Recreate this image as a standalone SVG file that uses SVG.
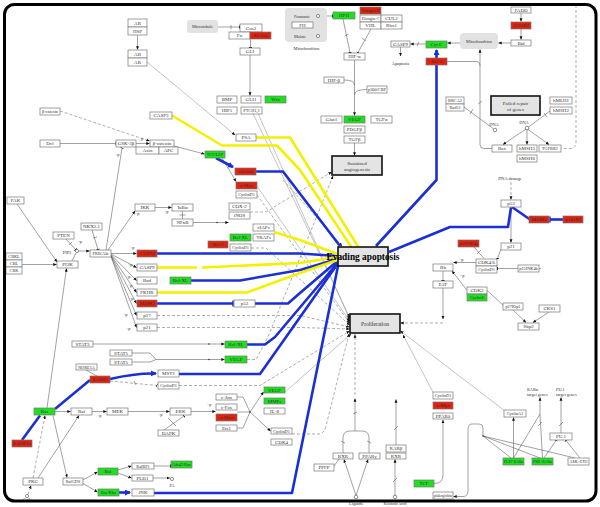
<svg xmlns="http://www.w3.org/2000/svg" width="600" height="507" viewBox="0 0 600 507">
<defs>
<style>
.b{fill:#fff;stroke:#777;stroke-width:.7}
.r{fill:#e0220f;stroke:#777;stroke-width:.7}
.g{fill:#1fe01f;stroke:#777;stroke-width:.7}
.ph{fill:#e4e4e4;stroke:#111;stroke-width:1.6}
.gr{fill:#e2e2e2;stroke:none}
text{font-family:"Liberation Serif","DejaVu Serif",serif;font-size:5px;fill:#333;text-anchor:middle}
.s{font-size:4.3px}
.st{text-anchor:start}
.l{stroke:#444;stroke-width:.5;fill:none}
.d{stroke:#777;stroke-width:.6;fill:none;stroke-dasharray:3 2}
.gl{stroke:#888;stroke-width:.5;fill:none}
.bl{stroke:#1b2fd6;stroke-width:2.6;fill:none;stroke-linejoin:round}
.ye{stroke:#f4f000;stroke-width:2.6;fill:none;stroke-linejoin:round}
.c{fill:#fff;stroke:#444;stroke-width:.6}
</style>
<marker id="ar" viewBox="0 0 6 6" refX="5.5" refY="3" markerWidth="3.5" markerHeight="3.5" markerUnits="userSpaceOnUse" orient="auto"><path d="M0,0.5L6,3L0,5.5z" fill="#111"/></marker>
<marker id="tb" viewBox="0 0 2 6" refX="1" refY="3" markerWidth="1" markerHeight="4" markerUnits="userSpaceOnUse" orient="auto"><path d="M1,0V6" stroke="#111" stroke-width="2"/></marker>
<marker id="abl" viewBox="0 0 6 6" refX="5" refY="3" markerWidth="6" markerHeight="6" markerUnits="userSpaceOnUse" orient="auto"><path d="M0,0L6,3L0,6z" fill="#1b2fd6"/></marker>
<marker id="tbl" viewBox="0 0 2 8" refX="1" refY="4" markerWidth="1.5" markerHeight="7" markerUnits="userSpaceOnUse" orient="auto"><path d="M1,0V8" stroke="#1b2fd6" stroke-width="2"/></marker>
</defs>
<rect width="600" height="507" fill="#fff"/>

<g id="connectors">
<!-- gray fan lines -->
<path class="gl" d="M253,113.5L349.5,317" marker-end="url(#ar)"/>
<path class="gl" d="M258,113.5L349.5,319" marker-end="url(#ar)"/>
<path class="gl" d="M257,186L349.5,321" marker-end="url(#ar)"/>
<path class="d" d="M257,195L349.5,323" marker-end="url(#ar)"/>
<path class="d" d="M251,248H266L349.5,325" marker-end="url(#ar)"/>
<path class="d" d="M157,315.5H300L349.5,327" marker-end="url(#ar)"/>
<path class="d" d="M157,327.5H300L349.5,329" marker-end="url(#ar)"/>
<path class="d" d="M179,385.5H260L349.5,331" marker-end="url(#ar)"/>
<path class="d" d="M292,434H318Q324,434 326,426L349,334" marker-end="url(#ar)"/>
<path class="gl" d="M285,392L351,334" marker-end="url(#ar)"/>
<path class="d" d="M250,212H262Q268,212 274,207L331.5,172" marker-end="url(#ar)"/>
<path class="d" d="M247,359.5H256L268,337L333,176" marker-end="url(#ar)"/>
<path class="d" d="M283,180L342,246" marker-end="url(#ar)"/>
<path class="gl" d="M505,411L400.5,331" marker-end="url(#ar)"/>
<path class="gl" d="M434,394L403,335" marker-end="url(#ar)"/>
<!-- top left -->
<path class="l" d="M137.5,35V49.5" marker-end="url(#ar)"/>
<path class="gl" d="M147,62L235,135" marker-end="url(#ar)"/>
<path class="d" d="M60,111L149.5,141" marker-end="url(#ar)"/>
<path class="l" d="M60,143.5H115" marker-end="url(#tb)"/>
<path class="l" d="M136,143.5H149.5" marker-end="url(#ar)"/>
<path class="l" d="M174,146L204.5,154" marker-end="url(#ar)"/>
<path class="l" d="M106,250L122,148" marker-end="url(#tb)"/>
<path class="l" d="M218,27H239.5" marker-end="url(#tb)"/>
<path class="l" d="M231,25V29"/>
<path class="l" d="M250.5,39.5V47.5" marker-end="url(#tb)"/>
<path class="l" d="M250,55V95.5" marker-end="url(#ar)"/>
<path class="l" d="M318,18V34" marker-end="url(#ar)"/>
<path class="l" d="M316.5,27L319.5,24"/>
<path class="l" d="M320,16H332.5" marker-end="url(#tb)"/>
<path class="l" d="M343,19L350,52.5" marker-end="url(#tb)"/>
<path class="l" d="M344.5,36L348.5,34"/>
<path class="l" d="M371,29L358,52.5" marker-end="url(#tb)"/>
<path class="l" d="M362,38L366,41"/>
<path class="l" d="M354.5,60V115.5" marker-end="url(#ar)"/>
<path class="l" d="M344,80Q354.5,80 354.5,85"/>
<path class="l" d="M367,89.5Q354.5,89.5 354.5,95"/>
<path class="l" d="M426,44H410.5" marker-end="url(#ar)"/>
<path class="l" d="M417,46L419,42"/>
<path class="l" d="M400.5,47V56" marker-end="url(#ar)"/>
<path class="l" d="M460,43H447.5" marker-end="url(#ar)"/>
<path class="l" d="M511,43H498.5" marker-end="url(#ar)"/>
<path class="l" d="M521,13V21.5" marker-end="url(#ar)"/>
<path class="l" d="M521,29V39.5" marker-end="url(#ar)"/>
<path class="l" d="M354.5,143V155.5" marker-end="url(#ar)"/>
<path class="l" d="M464,107L493.5,128.8"/>
<path class="l" d="M470,114L473,109"/>
<path class="l" d="M550,111L528.5,127"/>
<path class="l" d="M544,113L547,117"/>
<path class="l" d="M526,129L503,144.5" marker-end="url(#ar)"/>
<path class="l" d="M527,129.8V144.5" marker-end="url(#ar)"/>
<path class="l" d="M528,129.5L549,144.5" marker-end="url(#ar)"/>
<path class="l" d="M492,148.5H484Q480,148.5 480,144.5V49.5" marker-end="url(#ar)"/>
<path class="l" d="M447,61.5H476Q480,61.5 480,66"/>
<path class="l" d="M478,104L482,101"/>
<path class="d" d="M576,5V142Q576,148.5 570,148.5H561.5"/>
<!-- right middle -->
<path class="d" d="M511,182V199.5" marker-end="url(#ar)"/>
<path class="l" d="M511,207V242.5" marker-end="url(#ar)"/>
<path class="l" d="M474,247L484,258.5"/>
<path class="l" d="M481,250L477,254"/>
<path class="l" d="M501,249L497.5,258.5" marker-end="url(#tb)"/>
<path class="l" d="M518,268.5H497.5" marker-end="url(#tb)"/>
<path class="l" d="M539,268.5H541"/>
<path class="l" d="M476,262.5H453.5" marker-end="url(#ar)"/>
<path class="l" d="M470,294L452,271" marker-end="url(#ar)"/>
<path class="l" d="M443,271V280.5" marker-end="url(#tb)"/>
<path class="l" d="M443,288V319" marker-end="url(#ar)"/>
<path class="d" d="M443,323H400.5" marker-end="url(#ar)"/>
<path class="l" d="M487,290.5L503,305"/>
<path class="l" d="M513,310L526,322.5" marker-end="url(#ar)"/>
<path class="l" d="M549,312L533,322.5" marker-end="url(#ar)"/>
<!-- left middle -->
<path class="l" d="M17,204L57,262" marker-end="url(#ar)"/>
<path class="l" d="M22,264.5H56.5" marker-end="url(#ar)"/>
<path class="l" d="M47,408L66.5,268.5" marker-end="url(#ar)"/>
<path class="l" d="M72,261L76,253"/>
<path class="l" d="M66,239L75.5,249.5" marker-end="url(#tb)"/>
<path class="l" d="M69,245L72,242"/>
<path class="l" d="M78.6,251H89.5" marker-end="url(#ar)"/>
<path class="l" d="M92,230L98,249.5" marker-end="url(#tb)"/>
<path class="l" d="M93,238L97,237"/>
<path class="l" d="M108,250L135,211" marker-end="url(#ar)"/>
<path class="l" d="M155,207.5H171.5" marker-end="url(#ar)"/>
<path class="l" d="M182.5,211V219M179.5,215H185.5"/>
<path class="l" d="M193,222.5H228.5" marker-end="url(#ar)"/>
<circle cx="217" cy="222.5" r=".8" fill="#333"/>
<path class="l" d="M111,253.5H136.5" marker-end="url(#ar)"/>
<path class="l" d="M111,254L136.5,267.5" marker-end="url(#ar)"/>
<path class="l" d="M111,254.5L136.5,280.5" marker-end="url(#ar)"/>
<path class="l" d="M111,255L136.5,292.5" marker-end="url(#ar)"/>
<path class="l" d="M111,255.5L136.5,303.5" marker-end="url(#ar)"/>
<path class="l" d="M111,256L136.5,315.5" marker-end="url(#ar)"/>
<path class="l" d="M111,256.5L136.5,327.5" marker-end="url(#ar)"/>
<path class="l" d="M222,158L236,181.5" marker-end="url(#ar)"/>
<!-- bottom left -->
<path class="l" d="M93,344H224.5" marker-end="url(#ar)"/>
<circle cx="209" cy="344" r=".8" fill="#333"/>
<path class="l" d="M132,353H150L156,359.5H224.5" marker-end="url(#ar)"/>
<path class="l" d="M132,362H150L156,359.5"/>
<circle cx="209" cy="359.5" r=".8" fill="#333"/>
<path class="l" d="M86,370L97,376"/>
<path class="d" d="M110,381L157,385.5" marker-end="url(#tb)"/>
<path class="l" d="M134,381L136,385"/>
<path class="l" d="M55,411.5H70.5" marker-end="url(#ar)"/>
<path class="l" d="M92,411.5H106.5" marker-end="url(#ar)"/>
<path class="l" d="M128,411.5H169.5" marker-end="url(#ar)"/>
<path class="l" d="M164,430L184,416" marker-end="url(#tb)"/>
<path class="l" d="M168,418L176,426"/>
<path class="l" d="M191,411.5H215.5" marker-end="url(#ar)"/>
<path class="l" d="M237,412H250M237,397H243L250,412M237,428H243L250,412"/>
<circle cx="250" cy="412" r=".8" fill="#333"/>
<path class="l" d="M250,412L263.5,392" marker-end="url(#ar)"/>
<path class="l" d="M250,412L270.5,431" marker-end="url(#ar)"/>
<path class="l" d="M53,415.5L67,477.5" marker-end="url(#ar)"/>
<path class="l" d="M83,480L97.5,472" marker-end="url(#ar)"/>
<path class="l" d="M83,483.5L97.5,492" marker-end="url(#ar)"/>
<path class="l" d="M118,470L131.5,466" marker-end="url(#ar)"/>
<path class="l" d="M118,473L131.5,478" marker-end="url(#ar)"/>
<path class="l" d="M154,466H170.5" marker-end="url(#tb)"/>
<path class="l" d="M153,478H170" marker-end="url(#ar)"/>
<path class="d" d="M33,478L45,415.5" marker-end="url(#ar)"/>
<path class="l" d="M38,478L79,415.5" marker-end="url(#ar)"/>
<path class="d" d="M28,494.5L31,485.5" marker-end="url(#ar)"/>
<!-- bottom middle -->
<path class="l" d="M356,495.5L344,459.5" marker-end="url(#ar)"/>
<path class="l" d="M356,495.5L368,459.5" marker-end="url(#ar)"/>
<path class="l" d="M334,466L339,459"/>
<path class="l" d="M343,453V438Q343,431 350,431H355M369,453V438Q369,431 362,431H355"/>
<path class="l" d="M341,441L345,443M367,441L371,443"/>
<path class="l" d="M355,431V398.5" marker-end="url(#ar)"/>
<path class="l" d="M353,414L357,412"/>
<path class="d" d="M355,395V334.5" marker-end="url(#ar)"/>
<path class="l" d="M395,495.5V459.5" marker-end="url(#ar)"/>
<path class="l" d="M393,482L397,478"/>
<path class="l" d="M396,445V399.5" marker-end="url(#ar)"/>
<path class="l" d="M394,430L398,426"/>
<path class="l" d="M434,483.5Q443,483.5 443,475V420" marker-end="url(#ar)"/>
<path class="l" d="M483,436V428Q483,424 479,424H472Q468,424 468,430V491Q468,496.5 463,496.5H453.5" marker-end="url(#ar)"/>
<circle cx="483" cy="436" r=".8" fill="#333"/>
<path class="l" d="M483,436L511,458M483,436L540,458M483,436L575,458"/>
<path class="l" d="M513.5,458V417.5" marker-end="url(#ar)"/>
<path class="l" d="M513.5,458L540,414M542.5,458L540,414"/>
<path class="l" d="M540,414V397.5" marker-end="url(#ar)"/>
<path class="l" d="M538,426L542,422"/>
<path class="l" d="M561,433V397.5" marker-end="url(#ar)"/>
<path class="l" d="M559,426L563,422"/>
<path class="l" d="M544,458L556,440.5" marker-end="url(#tb)"/>
<path class="l" d="M580,458L566,440.5" marker-end="url(#tb)"/>
<!-- blue -->
<path class="bl" d="M216,158L233,167" marker-end="url(#abl)"/>
<path class="bl" d="M256,171.5H283L340,246"/>
<path class="bl" d="M436.5,65V180L376,246"/>
<path class="bl" d="M436.5,58V50" marker-end="url(#abl)"/>
<path class="bl" d="M389,252L450,227H508L511,207.5"/>
<path class="bl" d="M512,207L530,219.5"/>
<path class="bl" d="M563,219.5H550" marker-end="url(#tbl)"/>
<path class="bl" d="M157,253.5H300L337.5,256"/>
<path class="bl" d="M191,280.5H240L300,270L337.5,259"/>
<path class="bl" d="M157,303.5H233" marker-end="url(#tbl)"/>
<path class="bl" d="M255,303.5H288L300,293L337.5,261"/>
<path class="bl" d="M247,344.5H265L275,337L337.5,263"/>
<path class="bl" d="M110,379Q135,373 156,373.5" marker-end="url(#abl)"/>
<path class="bl" d="M179,374H260L337.5,264"/>
<path class="bl" d="M22,440L40,415.5"/>
<path class="bl" d="M55,409L90,380"/>
<path class="bl" d="M119,492.5H130" marker-end="url(#abl)"/>
<path class="bl" d="M154,493H292L338,266"/>
<!-- yellow -->
<path class="ye" d="M172,115.5L222,145.5H277L300,170L351,246.5"/>
<path class="ye" d="M256,137.5H290L358,246.5"/>
<path class="ye" d="M274,232L300,240L337.5,254"/>
<path class="ye" d="M157,267.5H197M202,267.5L300,263L337.5,257"/>
<path class="ye" d="M157,292.5H247L300,273L337.5,260"/>
</g>

<!-- gray groups -->
<g id="microtubule"><rect class="gr" x="187" y="20" width="31" height="13" rx="3"/><text x="202.5" y="28.3" class="s">Microtubule</text></g>
<g id="mito-group"><rect class="gr" x="285" y="8" width="42" height="34" rx="4"/><text x="302" y="18" class="s">Fumarate</text><rect class="b" x="292" y="22" width="21" height="6"/><text x="302.5" y="26.7">FH</text><text x="300" y="38" class="s">Malate</text><circle class="c" cx="318" cy="16" r="1.6"/><circle class="c" cx="318" cy="36" r="1.6"/><text x="306.5" y="50" class="s">Mitochondrion</text></g>
<g id="mito2"><rect class="gr" x="460" y="33" width="38" height="16" rx="4"/><text x="479" y="43" class="s">Mitochondrion</text></g>

<!-- phenotypes -->
<g id="p-angio"><rect class="ph" x="332" y="156" width="50" height="19"/><text x="357" y="164.5">Sustained</text><text x="357" y="170.5">angiogenesis</text></g>
<g id="p-failed"><rect class="ph" x="491" y="96" width="49" height="19"/><text x="515.5" y="104.5">Failed repair</text><text x="515.5" y="110.5">of genes</text></g>
<g id="p-evading"><rect class="ph" x="338" y="247" width="50" height="19"/><text x="363" y="260" style="font-size:9.5px;font-weight:bold;fill:#000" textLength="73" lengthAdjust="spacingAndGlyphs">Evading apoptosis</text></g>
<g id="p-prolif"><rect class="ph" x="350" y="314" width="50" height="19"/><text x="375" y="325.5" style="font-size:5.5px">Proliferation</text></g>

<!-- nodes top-left -->
<g id="n-ar1"><rect class="b" x="128" y="19" width="19" height="8"/><text x="137.5" y="24.8">AR</text></g>
<g id="n-hsp"><rect class="b" x="128" y="27" width="19" height="8"/><text x="137.5" y="32.8">HSP</text></g>
<g id="n-ar2"><rect class="b" x="128" y="50" width="19" height="8"/><text x="137.5" y="55.8">AR</text></g>
<g id="n-ar3"><rect class="b" x="128" y="58" width="19" height="8"/><text x="137.5" y="63.8">AR</text></g>
<g id="n-bcat1"><rect class="b" x="40" y="108" width="20" height="7"/><text x="50" y="113.2" class="s">β-catenin</text></g>
<g id="n-dvl"><rect class="b" x="40" y="140" width="20" height="7"/><text x="50" y="145.2">Dvl</text></g>
<g id="n-gsk"><rect class="b" x="116" y="140" width="20" height="7"/><text x="126" y="145.2">GSK-3β</text></g>
<g id="n-bcat2"><rect class="b" x="150" y="140" width="24" height="7"/><text x="162" y="145.2">β-catenin</text></g>
<g id="n-axin"><rect class="b" x="136" y="147" width="23" height="7"/><text x="147.5" y="152.2">Axin</text></g>
<g id="n-apc"><rect class="b" x="159" y="147" width="19" height="7"/><text x="168.5" y="152.2">APC</text></g>
<g id="n-tcf"><rect class="g" x="205" y="151" width="20" height="7"/><text x="215" y="156.2" class="s">TCF/LEF</text></g>
<g id="n-casp3"><rect class="b" x="150" y="112" width="22" height="7"/><text x="161" y="117.2">CASP3</text></g>
<g id="n-psa"><rect class="b" x="236" y="134" width="20" height="7"/><text x="246" y="139.2">PSA</text></g>
<g id="n-cos2"><rect class="b" x="240" y="24" width="22" height="8"/><text x="251" y="29.8">Cos2</text></g>
<g id="n-fu"><rect class="b" x="229" y="32" width="21" height="7"/><text x="239.5" y="37.2">Fu</text></g>
<g id="n-sufu"><rect class="r" x="250" y="32" width="21" height="7"/><text x="260.5" y="37.2">Su (fu)</text></g>
<g id="n-gli"><rect class="b" x="240" y="48" width="20" height="7"/><text x="250" y="53.2">GLI</text></g>
<g id="n-bmp"><rect class="b" x="217" y="96" width="20" height="7"/><text x="227" y="101.2">BMP</text></g>
<g id="n-gli1"><rect class="b" x="241" y="96" width="20" height="7"/><text x="251" y="101.2">GLI1</text></g>
<g id="n-wnt"><rect class="g" x="265" y="96" width="21" height="7"/><text x="275.5" y="101.2">Wnt</text></g>
<g id="n-hip1"><rect class="b" x="217" y="107" width="20" height="7"/><text x="227" y="112.2">HIP1</text></g>
<g id="n-ptch"><rect class="b" x="241" y="107" width="21" height="7"/><text x="251.5" y="112.2" class="s">PTCH1,2</text></g>
<!-- top middle -->
<g id="n-hph"><rect class="g" x="333" y="12" width="22" height="7"/><text x="344" y="17.2">HPH</text></g>
<g id="n-elb"><rect class="r" x="360" y="7" width="21" height="7"/><text x="370.5" y="12" class="s">Elongin B</text></g>
<g id="n-elc"><rect class="b" x="360" y="15" width="21" height="7"/><text x="370.5" y="20" class="s">Elongin C</text></g>
<g id="n-cul2"><rect class="b" x="381" y="15" width="21" height="7"/><text x="391.5" y="20.2">CUL2</text></g>
<g id="n-vhl"><rect class="b" x="360" y="22" width="21" height="7"/><text x="370.5" y="27.2">VHL</text></g>
<g id="n-rbx1"><rect class="b" x="381" y="22" width="21" height="7"/><text x="391.5" y="27.2">Rbx1</text></g>
<g id="n-hifa"><rect class="b" x="344" y="53" width="21" height="7"/><text x="354.5" y="58.2">HIF-α</text></g>
<g id="n-casp9b"><rect class="b" x="391" y="41" width="19" height="6"/><text x="400.5" y="45.7">CASP9</text></g>
<g id="t-apoptosis"><text x="400.5" y="64.5" class="s">Apoptosis</text></g>
<g id="n-cytc"><rect class="g" x="426" y="41" width="21" height="7"/><text x="436.5" y="46.2">Cyt C</text></g>
<g id="n-bcl2b"><rect class="r" x="426" y="58" width="21" height="7"/><text x="436.5" y="63.2">Bcl-2</text></g>
<g id="n-bid"><rect class="b" x="511" y="40" width="20" height="6"/><text x="521" y="44.7">Bid</text></g>
<g id="n-fadd"><rect class="b" x="511" y="7" width="20" height="6"/><text x="521" y="11.7">FADD</text></g>
<g id="n-casp8"><rect class="r" x="511" y="22" width="20" height="7"/><text x="521" y="27.2">CASP8</text></g>
<g id="n-hifb"><rect class="b" x="324" y="77" width="20" height="6"/><text x="334" y="81.7">HIF-β</text></g>
<g id="n-p300"><rect class="b" x="367" y="86" width="20" height="7"/><text x="377" y="91" class="s">p300/CBP</text></g>
<g id="n-glut1"><rect class="b" x="321" y="116" width="21" height="7"/><text x="331.5" y="121.2">Glut1</text></g>
<g id="n-vegf1"><rect class="g" x="344" y="116" width="21" height="7"/><text x="354.5" y="121.2">VEGF</text></g>
<g id="n-tgfa"><rect class="b" x="371" y="116" width="21" height="7"/><text x="381.5" y="121.2">TGFα</text></g>
<g id="n-pdgf"><rect class="b" x="344" y="126" width="21" height="7"/><text x="354.5" y="131.2">PDGFβ</text></g>
<g id="n-tgfb"><rect class="b" x="344" y="136" width="21" height="7"/><text x="354.5" y="141.2">TGFβ</text></g>
<!-- top right -->
<g id="n-brca2"><rect class="b" x="446" y="97" width="18" height="7"/><text x="455" y="102" class="s">BRCA2</text></g>
<g id="n-rad51"><rect class="b" x="446" y="104" width="18" height="7"/><text x="455" y="109" class="s">Rad51</text></g>
<g id="dna1"><text x="494" y="125.5" class="s">DNA</text><circle class="c" cx="495" cy="130" r="1.8"/></g>
<g id="n-mlh1"><rect class="b" x="550" y="97" width="22" height="7"/><text x="561" y="102.2">hMLH1</text></g>
<g id="n-msh2"><rect class="b" x="550" y="107" width="22" height="7"/><text x="561" y="112.2">hMSH2</text></g>
<g id="dna2"><text x="524" y="124" class="s">DNA</text><circle class="c" cx="527" cy="128" r="1.8"/></g>
<g id="n-bax"><rect class="b" x="492" y="145" width="20" height="7"/><text x="502" y="150.2">Bax</text></g>
<g id="n-msh3"><rect class="b" x="517" y="145" width="20" height="7"/><text x="527" y="150.2">hMSH3</text></g>
<g id="n-tgfbr2"><rect class="b" x="539" y="145" width="22" height="7"/><text x="550" y="150" class="s">TGFBR2</text></g>
<g id="n-msh6"><rect class="b" x="517" y="155" width="20" height="7"/><text x="527" y="160.2">hMSH6</text></g>
<!-- right middle -->
<g id="t-dnadamage"><text x="510" y="179.5" class="s">DNA damage</text></g>
<g id="n-p53b"><rect class="b" x="501" y="200" width="20" height="7"/><text x="511" y="205.2">p53</text></g>
<g id="n-mdm2b"><rect class="r" x="529" y="216" width="20" height="7"/><text x="539" y="221.2">MDM2</text></g>
<g id="n-p14"><rect class="r" x="563" y="216" width="20" height="7"/><text x="573" y="221" class="s">p14ARF</text></g>
<g id="n-p21b"><rect class="b" x="501" y="243" width="20" height="7"/><text x="511" y="248.2">p21</text></g>
<g id="n-p16"><rect class="r" x="458" y="240" width="21" height="7"/><text x="468.5" y="245" class="s">p16INK4a</text></g>
<g id="n-cdk46"><rect class="b" x="476" y="259" width="21" height="7"/><text x="486.5" y="264.2">CDK4/6</text></g>
<g id="n-cycd1c"><rect class="b" x="476" y="266" width="21" height="7"/><text x="486.5" y="271" class="s">CyclinD1</text></g>
<g id="n-p15"><rect class="b" x="518" y="265" width="21" height="7"/><text x="528.5" y="270" class="s">p15INK4b</text></g>
<g id="n-rb"><rect class="b" x="433" y="264" width="20" height="7"/><text x="443" y="269.2">Rb</text></g>
<g id="n-e2f"><rect class="b" x="433" y="281" width="20" height="7"/><text x="443" y="286.2">E2F</text></g>
<g id="n-cdk2"><rect class="b" x="467" y="287" width="20" height="7"/><text x="477" y="292.2">CDK2</text></g>
<g id="n-cyce"><rect class="g" x="467" y="294" width="20" height="7"/><text x="477" y="299" class="s">CyclinE</text></g>
<g id="n-p27b"><rect class="b" x="503" y="303" width="20" height="7"/><text x="513" y="308" class="s">p27Kip1</text></g>
<g id="n-cks1"><rect class="b" x="539" y="305" width="21" height="7"/><text x="549.5" y="310.2">CKS1</text></g>
<g id="n-skp2"><rect class="b" x="518" y="323" width="21" height="7"/><text x="528.5" y="328.2">Skp2</text></g>
<!-- left middle -->
<g id="n-fak"><rect class="b" x="7" y="197" width="17" height="7"/><text x="15.5" y="202.2">FAK</text></g>
<g id="n-crkl"><rect class="b" x="6" y="253" width="16" height="7"/><text x="14" y="258" class="s">CRKL</text></g>
<g id="n-cbl"><rect class="b" x="6" y="260" width="16" height="7"/><text x="14" y="265" class="s">CBL</text></g>
<g id="n-crk"><rect class="b" x="6" y="267" width="16" height="7"/><text x="14" y="272" class="s">CRK</text></g>
<g id="n-pi3k"><rect class="b" x="57" y="261" width="21" height="7"/><text x="67.5" y="266.2">PI3K</text></g>
<g id="n-pten"><rect class="b" x="53" y="232" width="21" height="7"/><text x="63.5" y="237.2">PTEN</text></g>
<g id="pip3"><text x="67" y="253.5" class="s">PIP3</text><circle class="c" cx="77" cy="251" r="1.6"/></g>
<g id="n-nkx"><rect class="b" x="81" y="223" width="21" height="7"/><text x="91.5" y="228.2">NKX2.1</text></g>
<g id="n-akt"><rect class="b" x="90" y="250" width="21" height="7"/><text x="100.5" y="255" class="s">PKB/Akt</text></g>
<g id="n-ikk"><rect class="b" x="135" y="204" width="20" height="7"/><text x="145" y="209.2">IKK</text></g>
<g id="n-ikba"><rect class="b" x="172" y="204" width="21" height="7"/><text x="182.5" y="209.2">IκBα</text></g>
<g id="n-nfkb"><rect class="b" x="172" y="219" width="21" height="7"/><text x="182.5" y="224.2">NFκB</text></g>
<g id="n-cox2"><rect class="b" x="229" y="203" width="21" height="7"/><text x="239.5" y="208.2">COX-2</text></g>
<g id="n-inos"><rect class="b" x="229" y="212" width="21" height="7"/><text x="239.5" y="217.2">iNOS</text></g>
<g id="n-surv"><rect class="r" x="235" y="168" width="21" height="7"/><text x="245.5" y="173" class="s">Survivin</text></g>
<g id="n-cmyc1"><rect class="r" x="236" y="182" width="21" height="7"/><text x="246.5" y="187.2">c-Myc</text></g>
<g id="n-cycd1a"><rect class="b" x="236" y="191" width="21" height="7"/><text x="246.5" y="196" class="s">CyclinD1</text></g>
<g id="n-ciaps"><rect class="b" x="253" y="224" width="21" height="7"/><text x="263.5" y="229.2">cIAPs</text></g>
<g id="n-bclxl1"><rect class="g" x="230" y="234" width="21" height="7"/><text x="240.5" y="239.2">Bcl-XL</text></g>
<g id="n-trafs"><rect class="b" x="253" y="234" width="21" height="7"/><text x="263.5" y="239.2">TRAFs</text></g>
<g id="n-bcl2a"><rect class="r" x="208" y="241" width="20" height="7"/><text x="218" y="246.2">Bcl-2</text></g>
<g id="n-cycd1b"><rect class="b" x="230" y="244" width="21" height="7"/><text x="240.5" y="249" class="s">CyclinD1</text></g>
<g id="n-t1"><rect class="r" x="137" y="250" width="20" height="7"/><text x="147" y="255" class="s">CASP9R</text></g>
<g id="n-casp9a"><rect class="b" x="137" y="264" width="20" height="7"/><text x="147" y="269.2">CASP9</text></g>
<g id="n-bad"><rect class="b" x="137" y="277" width="20" height="7"/><text x="147" y="282.2">Bad</text></g>
<g id="n-fkhr"><rect class="b" x="137" y="289" width="20" height="7"/><text x="147" y="294.2">FKHR</text></g>
<g id="n-mdm2a"><rect class="r" x="137" y="300" width="20" height="7"/><text x="147" y="305.2">MDM2</text></g>
<g id="n-p27a"><rect class="b" x="137" y="312" width="20" height="7"/><text x="147" y="317.2">p27</text></g>
<g id="n-p21a"><rect class="b" x="137" y="324" width="20" height="7"/><text x="147" y="329.2">p21</text></g>
<g id="n-bclxl2"><rect class="g" x="170" y="277" width="21" height="7"/><text x="180.5" y="282.2">Bcl-XL</text></g>
<g id="n-p53a"><rect class="b" x="234" y="300" width="21" height="7"/><text x="244.5" y="305.2">p53</text></g>
<!-- bottom left -->
<g id="n-stat3"><rect class="b" x="72" y="341" width="21" height="6"/><text x="82.5" y="345.7">STAT3</text></g>
<g id="n-stat5a"><rect class="b" x="110" y="350" width="22" height="6"/><text x="121" y="354.7">STAT5</text></g>
<g id="n-stat5b"><rect class="b" x="110" y="359" width="22" height="6"/><text x="121" y="363.7">STAT5</text></g>
<g id="n-bclxl3"><rect class="g" x="225" y="341" width="22" height="7"/><text x="236" y="346.2">Bcl-XL</text></g>
<g id="n-vegf2"><rect class="g" x="225" y="356" width="22" height="7"/><text x="236" y="361.2">VEGF</text></g>
<g id="n-nore"><rect class="b" x="76" y="364" width="21" height="6"/><text x="86.5" y="368.6" class="s">NORE1A</text></g>
<g id="n-rassf1"><rect class="r" x="90" y="376" width="20" height="7"/><text x="100" y="381" class="s">RASSF1</text></g>
<g id="n-mst1"><rect class="b" x="158" y="370" width="21" height="7"/><text x="168.5" y="375.2">MST1</text></g>
<g id="n-cycd1d"><rect class="b" x="158" y="382" width="21" height="7"/><text x="168.5" y="387" class="s">CyclinD1</text></g>
<g id="n-ras"><rect class="g" x="34" y="408" width="21" height="7"/><text x="44.5" y="413.2">Ras</text></g>
<g id="n-rassf1a"><rect class="r" x="12" y="440" width="20" height="7"/><text x="22" y="445" class="s">RASSF1A</text></g>
<g id="n-raf"><rect class="b" x="71" y="408" width="21" height="7"/><text x="81.5" y="413.2">Raf</text></g>
<g id="n-mek"><rect class="b" x="107" y="408" width="21" height="7"/><text x="117.5" y="413.2">MEK</text></g>
<g id="n-erk"><rect class="b" x="170" y="408" width="21" height="7"/><text x="180.5" y="413.2">ERK</text></g>
<g id="n-dapk"><rect class="b" x="158" y="430" width="21" height="6"/><text x="168.5" y="434.7">DAPK</text></g>
<g id="n-cjun"><rect class="b" x="216" y="394" width="21" height="6"/><text x="226.5" y="398.7">c-Jun</text></g>
<g id="n-cfos"><rect class="b" x="216" y="404" width="21" height="6"/><text x="226.5" y="408.7">c-Fos</text></g>
<g id="n-cmyc2"><rect class="r" x="216" y="414" width="21" height="7"/><text x="226.5" y="419.2">c-Myc</text></g>
<g id="n-ets1"><rect class="b" x="216" y="425" width="21" height="6"/><text x="226.5" y="429.7">Ets1</text></g>
<g id="n-vegf3"><rect class="g" x="264" y="387" width="21" height="6"/><text x="274.5" y="391.7">VEGF</text></g>
<g id="n-mmps"><rect class="g" x="264" y="398" width="21" height="6"/><text x="274.5" y="402.7">MMPs</text></g>
<g id="n-il8"><rect class="b" x="264" y="408" width="21" height="6"/><text x="274.5" y="412.7">IL-8</text></g>
<g id="n-cycd1e"><rect class="b" x="271" y="428" width="21" height="6"/><text x="281.5" y="432.6" class="s">CyclinD1</text></g>
<g id="n-cdk4"><rect class="b" x="271" y="439" width="21" height="6"/><text x="281.5" y="443.7">CDK4</text></g>
<g id="n-ralgds"><rect class="b" x="63" y="478" width="20" height="7"/><text x="73" y="483" class="s">RalGDS</text></g>
<g id="n-ral"><rect class="g" x="98" y="468" width="20" height="7"/><text x="108" y="473.2">Ral</text></g>
<g id="n-ralbp1"><rect class="b" x="132" y="463" width="22" height="6"/><text x="143" y="467.6" class="s">RalBP1</text></g>
<g id="n-pld1"><rect class="b" x="132" y="475" width="21" height="6"/><text x="142.5" y="479.7">PLD1</text></g>
<g id="n-cdc42"><rect class="g" x="171" y="461" width="21" height="7"/><text x="181.5" y="466" class="s">Cdc42/Rac</text></g>
<g id="pa"><circle class="c" cx="172" cy="479" r="1.6"/><text x="172" y="487" class="s">PA</text></g>
<g id="n-racrho"><rect class="g" x="98" y="489" width="21" height="7"/><text x="108.5" y="494" class="s">Rac/Rho</text></g>
<g id="n-jnk"><rect class="b" x="132" y="489" width="22" height="7"/><text x="143" y="494.2">JNK</text></g>
<g id="n-pkc"><rect class="b" x="23" y="478" width="20" height="7"/><text x="33" y="483.2">PKC</text></g>
<g id="ca"><circle class="c" cx="27" cy="496" r="1.6"/><text x="28" y="501" class="s">Ca2+</text></g>
<!-- bottom middle -->
<g id="n-ppfp"><rect class="b" x="314" y="464" width="20" height="7"/><text x="324" y="469.2">PPFP</text></g>
<g id="n-rxr1"><rect class="b" x="333" y="453" width="20" height="6"/><text x="343" y="457.7">RXR</text></g>
<g id="n-pparg"><rect class="b" x="359" y="453" width="21" height="6"/><text x="369.5" y="457.7">PPARγ</text></g>
<g id="n-rarb"><rect class="b" x="386" y="445" width="20" height="7"/><text x="396" y="450.2">RARβ</text></g>
<g id="n-rxr2"><rect class="b" x="386" y="453" width="20" height="6"/><text x="396" y="457.7">RXR</text></g>
<g id="ligands"><circle class="c" cx="356" cy="497" r="1.8"/><text x="356" y="504.5" class="s">Ligands</text></g>
<g id="retinoic"><circle class="c" cx="395" cy="497" r="1.8"/><text x="395" y="504.5" class="s">Retinoic acid</text></g>
<g id="n-tcf2"><rect class="g" x="414" y="480" width="20" height="7"/><text x="424" y="485.2">TCF</text></g>
<g id="n-cycd1f"><rect class="b" x="433" y="392" width="20" height="7"/><text x="443" y="397" class="s">CyclinD1</text></g>
<g id="n-cmyc3"><rect class="r" x="433" y="402" width="20" height="7"/><text x="443" y="407.2">c-Myc</text></g>
<g id="n-ppard"><rect class="b" x="433" y="413" width="20" height="6"/><text x="443" y="417.7">PPARδ</text></g>
<g id="n-plako"><rect class="b" x="433" y="492" width="20" height="7"/><text x="443" y="497" class="s" textLength="18" lengthAdjust="spacingAndGlyphs">plakoglobin</text></g>
<!-- bottom right -->
<g id="n-cyca1"><rect class="b" x="504" y="410" width="22" height="7"/><text x="515" y="415" class="s">CyclinA1</text></g>
<g id="t-rara"><text x="527" y="390.5" class="s st">RARα</text><text x="527" y="395.5" class="s st">target genes</text></g>
<g id="t-pu1"><text x="556" y="390.5" class="s st">PU.1</text><text x="556" y="395.5" class="s st">target genes</text></g>
<g id="n-pu1"><rect class="b" x="550" y="433" width="22" height="7"/><text x="561" y="438.2">PU.1</text></g>
<g id="n-plzf"><rect class="g" x="503" y="458" width="21" height="7"/><text x="513.5" y="463" class="s" textLength="19" lengthAdjust="spacingAndGlyphs">PLZF-RARα</text></g>
<g id="n-pml"><rect class="g" x="532" y="458" width="21" height="7"/><text x="542.5" y="463" class="s" textLength="19" lengthAdjust="spacingAndGlyphs">PML-RARα</text></g>
<g id="n-amleto"><rect class="b" x="568" y="458" width="21" height="7"/><text x="578.5" y="463" class="s" textLength="18" lengthAdjust="spacingAndGlyphs">AML-ETO</text></g>

<!-- +p labels -->
<g id="labels" style="font-size:4px">
<text x="141" y="140.5" class="s">+P</text>
<text x="117" y="156" class="s">+p</text>
<text x="80" y="243" class="s">-p</text>
<text x="137" y="215" class="s">+p</text>
<text x="166" y="213" class="s">+p</text>
<text x="132" y="249" class="s">+p</text>
<text x="130" y="266" class="s">+p</text>
<text x="128" y="278" class="s">+p</text>
<text x="130" y="287" class="s">+p</text>
<text x="131" y="300" class="s">+p</text>
<text x="125" y="316" class="s">+p</text>
<text x="128" y="330" class="s">+p</text>
<text x="99" y="417" class="s">+p</text>
<text x="160" y="416" class="s">+p</text>
<text x="209" y="406" class="s">+p</text>
<text x="461" y="261" class="s">+p</text>
<text x="462" y="277" class="s">+p</text>
</g>

<rect x="4.5" y="4.5" width="591.5" height="496.5" rx="10" fill="none" stroke="#000" stroke-width="3"/>
</svg>
